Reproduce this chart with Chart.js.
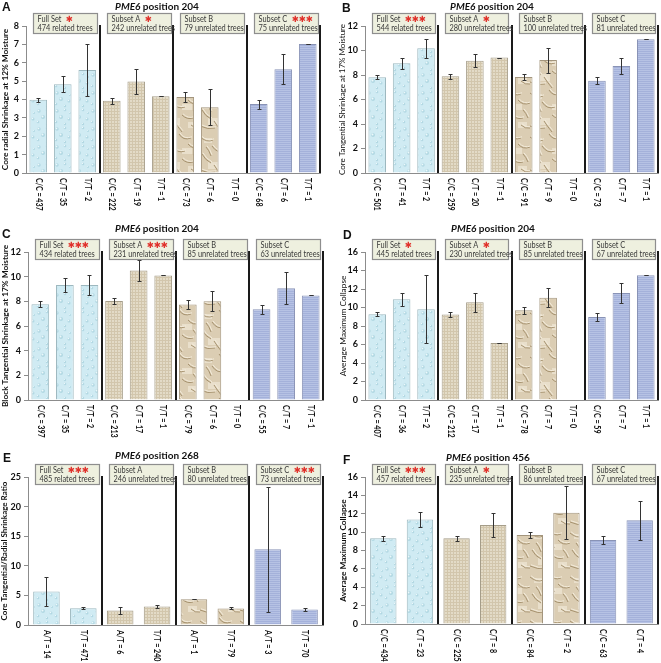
<!DOCTYPE html>
<html><head><meta charset="utf-8">
<script src="https://cdn.jsdelivr.net/npm/chart.js@4.4.0/dist/chart.umd.min.js"></script>
<style>
body{margin:0;background:#fff;width:661px;height:663px;position:relative;overflow:hidden;font-family:Lato,sans-serif}
canvas{position:absolute}
.ttl{position:absolute;width:220px;text-align:center;font-family:Lato,sans-serif;font-weight:bold;font-size:10px;color:#111;line-height:12px;white-space:nowrap}
.let{position:absolute;font-family:"Liberation Sans",Arial,sans-serif;font-weight:bold;font-size:12px;color:#111;line-height:12px}
</style></head><body>
<script>
// ---------- DATA ----------
const setNames = ['Full Set','Subset A','Subset B','Subset C'];

const catsA = ['C/C = 437','C/T = 35','T/T = 2','C/C = 222','C/T = 19','T/T = 1','C/C = 73','C/T = 6','T/T = 0','C/C = 68','C/T = 6','T/T = 1'];
const valsA = [3.98,4.83,5.6,3.93,4.98,4.18,4.13,3.58,0,3.75,5.65,7.02];
const errA  = [0.12,0.43,1.43,0.15,0.68,0,0.27,0.97,null,0.25,0.83,0];
const treesA = ['474 related trees','242 unrelated trees','79 unrelated trees','75 unrelated trees'];
const starsA = [1,1,0,3];

const catsB = ['C/C = 501','C/T = 41','T/T = 2','C/C = 259','C/T = 20','T/T = 1','C/C = 91','C/T = 9','T/T = 0','C/C = 73','C/T = 7','T/T = 1'];
const valsB = [7.82,8.96,10.18,7.9,9.16,9.42,7.84,9.22,0,7.54,8.74,10.92];
const errB  = [0.17,0.43,0.79,0.2,0.54,0,0.24,1.02,null,0.31,0.64,0];
const treesB = ['544 related trees','280 unrelated trees','100 unrelated trees','81 unrelated trees'];
const starsB = [3,1,0,0];

const catsC = ['C/C = 397','C/T = 35','T/T = 2','C/C = 213','C/T = 17','T/T = 1','C/C = 79','C/T = 6','T/T = 0','C/C = 55','C/T = 7','T/T = 1'];
const valsC = [7.76,9.32,9.32,8.02,10.5,10.1,7.74,8.0,0,7.36,9.06,8.48];
const errC  = [0.23,0.54,0.78,0.25,0.85,0,0.38,0.81,null,0.38,1.3,0];
const treesC = ['434 related trees','231 unrelated trees','85 unrelated trees','63 unrelated trees'];
const starsC = [3,3,0,0];

const catsD = ['C/C = 407','C/T = 36','T/T = 2','C/C = 212','C/T = 17','T/T = 1','C/C = 78','C/T = 7','T/T = 0','C/C = 59','C/T = 7','T/T = 1'];
const valsD = [9.28,10.88,9.82,9.24,10.56,6.15,9.7,11.06,0,8.98,11.56,13.5];
const errD  = [0.24,0.67,3.7,0.29,1.03,0,0.36,1.05,null,0.4,1.09,0];
const treesD = ['445 related trees','230 unrelated trees','85 unrelated trees','67 unrelated trees'];
const starsD = [1,1,0,0];

const catsE = ['A/T = 14','T/T = 471','A/T = 6','T/T = 240','A/T = 1','T/T = 79','A/T = 3','T/T = 70'];
const valsE = [5.66,2.84,2.45,3.12,4.35,2.8,12.8,2.62];
const errE  = [2.4,0.15,0.6,0.25,0,0.17,10.55,0.2];
const treesE = ['485 related trees','246 unrelated trees','80 unrelated trees','73 unrelated trees'];
const starsE = [3,0,0,3];

const catsF = ['C/C = 434','C/T = 23','C/C = 225','C/T = 8','C/C = 84','C/T = 2','C/C = 63','C/T = 4'];
const valsF = [9.32,11.38,9.32,10.78,9.7,12.1,9.14,11.28];
const errF  = [0.25,0.77,0.25,1.3,0.36,2.88,0.4,2.15];
const treesF = ['457 related trees','235 unrelated trees','86 unrelated trees','67 unrelated trees'];
const starsF = [3,1,0,0];

const panelLetters = ['A','B','C','D','E','F'];
const positions = ['204','204','204','204','268','456'];
const yTitles = ['Core radial Shrinkage at 12% Moisture','Core Tangential Shrinkage at 17% Moisture','Block Tangential Shrinkage at 17% Moisture','Average Maximum Collapse','Core Tangential/Radial Shrinkage Ratio','Average Maximum Collapse'];
const yMax = [8,12,12,16,25,16];
const yStep = [1,2,2,2,5,2];

// ---------- STYLE / LAYOUT ----------
const geo = [
 {x:0,  y:0,  w:330,h:220,L:26,R:320,T:26,B:173, tp:0, tw:'bold', ts:8.3, tt:{x:157,y:6}, lt:{x:2,y:1}},
 {x:330,y:0,  w:331,h:220,L:35,R:328,T:26,B:173, tp:8, tw:'normal', ts:8, tt:{x:492,y:6}, lt:{x:342,y:2}},
 {x:0,  y:220,w:330,h:220,L:28,R:323,T:32,B:180, tp:0, tw:'bold', ts:8.3, tt:{x:157,y:228}, lt:{x:2,y:228}},
 {x:330,y:220,w:331,h:220,L:35,R:328,T:32,B:180, tp:8, tw:'normal', ts:8.3, tt:{x:493,y:228}, lt:{x:343,y:229}},
 {x:0,  y:440,w:330,h:223,L:28,R:323,T:37,B:185, tp:0, tw:'bold', ts:8, tt:{x:157,y:455}, lt:{x:3,y:452}},
 {x:330,y:440,w:331,h:223,L:35,R:328,T:37,B:184, tp:8, tw:'bold', ts:8.3, tt:{x:488,y:457}, lt:{x:343,y:454}}
];

function makePattern(kind){
  const c=document.createElement('canvas');
  const g=c.getContext('2d');
  if(kind==='drops'){
    c.width=18;c.height=18;
    g.fillStyle='#d0ebf3';g.fillRect(0,0,18,18);
    const pts=[[3,3,1.7],[11,2,1.3],[7,9,2],[15,11,1.5],[2,14,1.3],[11,16,1.2],[16,5,1.0]];
    pts.forEach(p=>{g.fillStyle='#b2d8e3';g.beginPath();g.arc(p[0],p[1],p[2],0,Math.PI*2);g.fill();
      g.fillStyle='#ecf8fb';g.beginPath();g.arc(p[0]-0.5,p[1]-0.5,p[2]*0.5,0,Math.PI*2);g.fill();});
  } else if(kind==='grid'){
    c.width=3;c.height=3;
    g.fillStyle='#e3dbc7';g.fillRect(0,0,3,3);
    g.fillStyle='#d2c6ac';g.fillRect(0,0,3,1);g.fillRect(0,0,1,3);
  } else if(kind==='crinkle'){
    c.width=40;c.height=44;
    g.fillStyle='#dbcdb3';g.fillRect(0,0,40,44);
    g.fillStyle='#e9dfcb';
    [[4,6,8,5],[22,16,10,6],[8,30,12,7],[28,34,9,6]].forEach(r=>{g.fillRect(r[0],r[1],r[2],r[3]);});
    g.lineWidth=1;
    const d=[[0,5,7,11,13,8],[12,14,17,22,25,19],[2,22,5,28,11,31],[19,2,23,9,31,6],[22,27,27,32,33,30],[6,15,9,18,11,24],
             [28,12,33,18,40,15],[31,37,35,41,40,40],[0,38,8,42,15,40],[14,33,17,38,22,44],[33,22,36,25,38,30]];
    g.strokeStyle='#a6926f';
    d.forEach(s=>{g.beginPath();g.moveTo(s[0],s[1]);g.quadraticCurveTo(s[2],s[3],s[4],s[5]);g.stroke();});
    g.strokeStyle='#f3ebda';
    d.forEach(s=>{g.beginPath();g.moveTo(s[0]+1,s[1]-1.2);g.quadraticCurveTo(s[2]+1,s[3]-1.2,s[4]+1,s[5]-1.2);g.stroke();});
  } else {
    c.width=2;c.height=2;
    g.fillStyle='#b6c2e4';g.fillRect(0,0,2,2);
    g.fillStyle='#a4b1da';g.fillRect(0,1,2,1);
  }
  return g.createPattern(c,'repeat');
}
const fills = [makePattern('drops'),makePattern('grid'),makePattern('crinkle'),makePattern('lines')];
const borders = ['#9db8bf','#a59d89','#a3957d','#8993b6'];

const overlay = {
  id:'overlay',
  afterDatasetsDraw(chart,args,o){
    const ctx=chart.ctx, xs=chart.scales.x, ys=chart.scales.y, ca=chart.chartArea;
    const n=o.cats.length, gs=n/4, cw=(ca.right-ca.left)/n;
    ctx.save();
    // error bars
    ctx.strokeStyle='#333';ctx.lineWidth=1;
    o.vals.forEach((v,i)=>{
      const e=o.err[i]; if(e===null||e===undefined) return;
      const x=Math.round(xs.getPixelForValue(i))+0.5;
      const yh=Math.round(ys.getPixelForValue(v+e))+0.5, yl=Math.round(ys.getPixelForValue(Math.max(0,v-e)))+0.5;
      ctx.beginPath();ctx.moveTo(x,yh);ctx.lineTo(x,yl);
      ctx.moveTo(x-2,yh);ctx.lineTo(x+2,yh);ctx.moveTo(x-2,yl);ctx.lineTo(x+2,yl);ctx.stroke();
    });
    // separators
    ctx.strokeStyle='#1a1a1a';ctx.lineWidth=2;
    for(let g=1;g<=4;g++){
      const x=Math.round(ca.left+g*gs*cw);
      ctx.beginPath();ctx.moveTo(x,ca.top-1);ctx.lineTo(x,ca.bottom);ctx.stroke();
    }
    // boxes
    for(let g=0;g<4;g++){
      const gl=ca.left+g*gs*cw, gw=gs*cw;
      const bx=Math.round(gl+7)+0.5, by=Math.round(ca.top-13.5)+0.5, bw=Math.round(gw-10), bh=20;
      ctx.fillStyle='#eef0df';ctx.fillRect(bx,by,bw,bh);
      ctx.strokeStyle='#8e8e8e';ctx.lineWidth=1.2;ctx.strokeRect(bx,by,bw,bh);
      ctx.fillStyle='#3a3a3a';ctx.font='8.6px Lato';ctx.textAlign='left';ctx.textBaseline='middle';
      const sx=0.86;
      ctx.save();ctx.translate(bx+4,0);ctx.scale(sx,1);
      ctx.fillText(setNames[g],0,by+5.5);
      ctx.fillText(o.trees[g],0,by+14.5);
      ctx.restore();
      const tw=ctx.measureText(setNames[g]).width*sx;
      ctx.fillStyle='#e0302a';ctx.font='8.5px "DejaVu Sans"';ctx.textAlign='center';
      for(let s=0;s<o.stars[g];s++){ctx.fillText('\u2731',bx+4+tw+8+s*7,by+6);}
    }
    // x labels (rotated clockwise)
    ctx.fillStyle='#111';ctx.font='bold 8.5px Lato';ctx.textAlign='left';ctx.textBaseline='middle';
    o.cats.forEach((c,i)=>{
      const x=xs.getPixelForValue(i);
      ctx.save();ctx.translate(x,ca.bottom+5);ctx.rotate(Math.PI/2);ctx.scale(0.84,1);ctx.fillText(c,0,0);ctx.restore();
    });
    ctx.restore();
  }
};

const panelData = [
 [catsA,valsA,errA,treesA,starsA],
 [catsB,valsB,errB,treesB,starsB],
 [catsC,valsC,errC,treesC,starsC],
 [catsD,valsD,errD,treesD,starsD],
 [catsE,valsE,errE,treesE,starsE],
 [catsF,valsF,errF,treesF,starsF]
];

panelData.forEach((pd,k)=>{
  const p=geo[k];
  const [cats,vals,err,trees,stars]=pd;
  const gs=cats.length/4;
  const cv=document.createElement('canvas');
  cv.width=p.w;cv.height=p.h;cv.style.left=p.x+'px';cv.style.top=p.y+'px';
  cv.style.width=p.w+'px';cv.style.height=p.h+'px';
  document.body.appendChild(cv);
  new Chart(cv,{
    type:'bar',
    data:{labels:cats,datasets:[{
      data:vals,
      backgroundColor:cats.map((c,i)=>fills[Math.floor(i/gs)]),
      borderColor:cats.map((c,i)=>borders[Math.floor(i/gs)]),
      borderWidth:1,
      barPercentage:0.72,categoryPercentage:1
    }]},
    options:{
      responsive:false,animation:false,devicePixelRatio:1,
      layout:{padding:{top:p.T,right:p.w-p.R,bottom:0,left:0}},
      plugins:{legend:{display:false},tooltip:{enabled:false},title:{display:false},
        overlay:{cats,vals,err,trees,stars}},
      scales:{
        x:{grid:{display:false,drawTicks:false},border:{color:'#8c8c8c',width:1},ticks:{display:false},
           afterFit(s){s.height=p.h-p.B;}},
        y:{min:0,max:yMax[k],
           ticks:{stepSize:yStep[k],color:'#111',padding:3,font:{family:'Lato',size:9,weight:'bold'}},
           grid:{drawOnChartArea:false,drawTicks:true,tickLength:4,color:'#8c8c8c'},
           border:{color:'#8c8c8c',width:1},
           title:{display:true,text:yTitles[k],color:'#111',padding:{top:p.tp,bottom:0},
             font:{family:'Lato',size:p.ts,weight:p.tw}},
           afterFit(s){s.width=p.L;}}
      }
    },
    plugins:[overlay]
  });
  const t=document.createElement('div');t.className='ttl';
  t.style.left=(p.tt.x-110)+'px';t.style.top=(p.tt.y-6)+'px';
  t.innerHTML='<i>PME6</i> position '+positions[k];
  document.body.appendChild(t);
  const l=document.createElement('div');l.className='let';
  l.style.left=p.lt.x+'px';l.style.top=p.lt.y+'px';l.textContent=panelLetters[k];
  document.body.appendChild(l);
});
</script>
</body></html>
